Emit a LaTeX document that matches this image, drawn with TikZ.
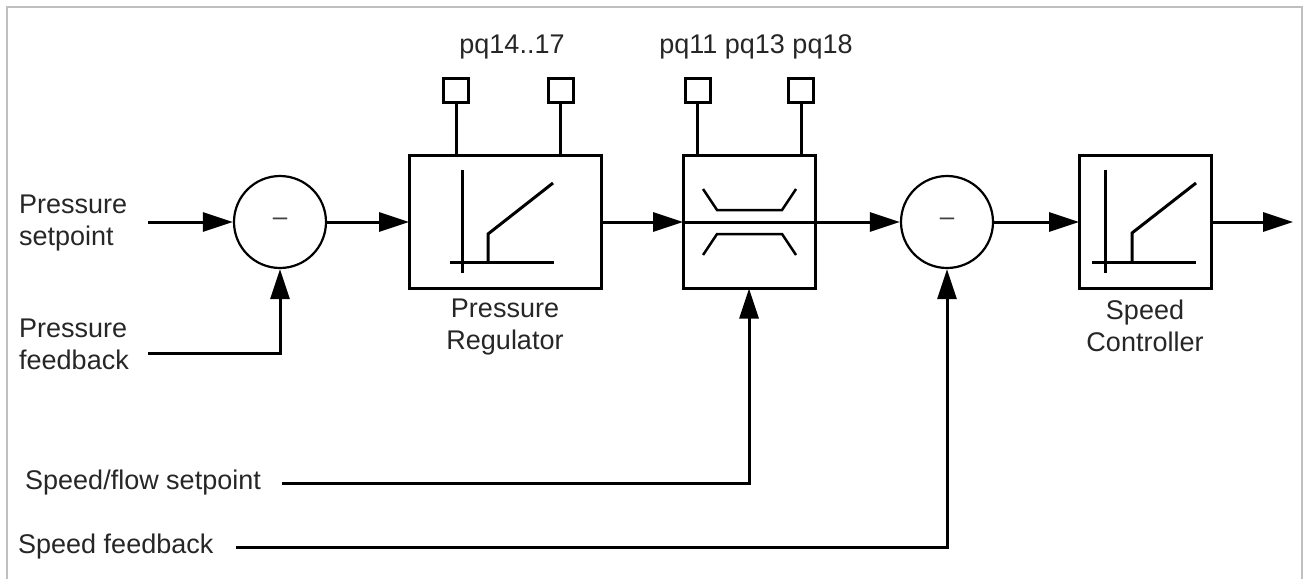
\documentclass[tikz,border=0pt]{standalone}
\usepackage{fontspec}
\setmainfont{Liberation Sans}
\usetikzlibrary{arrows.meta}
\begin{document}
\begin{tikzpicture}[x=1pt,y=-1pt,
  wire/.style={line width=3pt},
  arr/.style={line width=3pt,-{Triangle[length=30pt,width=19pt]}},
  blk/.style={draw,line width=3pt,minimum height=133pt,inner sep=0pt,outer sep=0pt},
  sum/.style={draw,circle,line width=2.2pt,minimum size=92pt,inner sep=0pt,font=\fontsize{26}{30}\selectfont,text=black!75},
  port/.style={draw,line width=3pt,minimum width=25pt,minimum height=24pt,inner sep=0pt,outer sep=0pt},
  lbl/.style={inner sep=0pt,font=\fontsize{27}{32}\selectfont,text=black!85},
  glyph/.style={line width=3pt},
  border/.style={draw=black!25,line width=2.5pt}]
\useasboundingbox (0,0) rectangle (1308,579);
\draw[border] (7,579) -- (7,7) -- (1302,7) -- (1302,579);

% blocks
\node[blk,minimum width=192pt] (pr) at (505,222) {};
\node[blk,minimum width=132pt] (lim) at (749,222) {};
\node[blk,minimum width=132pt] (sc) at (1145,222) {};
\node[sum] (s1) at (280,222) {\textendash};
\node[sum] (s2) at (947,222) {\textendash};

% parameter ports
\node[port] (p1) at (456,90.5) {};
\node[port] (p2) at (560.5,90.5) {};
\node[port] (p3) at (697.5,90.5) {};
\node[port] (p4) at (801,90.5) {};
\draw[wire] (p1) -- (p1 |- pr.north);
\draw[wire] (p2) -- (p2 |- pr.north);
\draw[wire] (p3) -- (p3 |- lim.north);
\draw[wire] (p4) -- (p4 |- lim.north);
\node[lbl] (lp1) at (512,47) {pq14..17};
\node[lbl] (lp2) at (756,47) {pq11 pq13 pq18};

% regulator glyphs
\begin{scope}[shift={(pr.center)}]
  \draw[glyph] (-43,-52) -- (-43,51);
  \draw[glyph] (-55,40) -- (49,40);
  \draw[glyph] (-17,40) -- (-17,12) -- (48,-39);
\end{scope}
\begin{scope}[shift={(sc.center)}]
  \draw[glyph] (-40,-52) -- (-40,51);
  \draw[glyph] (-53,40) -- (51,40);
  \draw[glyph] (-13,40) -- (-13,11) -- (51,-39);
\end{scope}
% limiter glyph
\begin{scope}[shift={(lim.center)}]
  \draw[line width=2.5pt] (-46,-33) -- (-32,-12) -- (33,-12) -- (47,-33);
  \draw[line width=2.5pt] (-46,33) -- (-32,12) -- (33,12) -- (47,33);
\end{scope}
\draw[wire] (lim.west) -- (lim.east);

% labels
\node[lbl,anchor=west,align=left] (lps) at (19,223) {Pressure\\setpoint};
\node[lbl,anchor=west,align=left] (lpf) at (19,344) {Pressure\\feedback};
\node[lbl,align=center] (lpr) at (505,327) {Pressure\\Regulator};
\node[lbl,align=center] (lsc) at (1145,326) {Speed\\Controller};
\node[lbl,anchor=west] (lsf) at (25,483) {Speed/flow setpoint};
\node[lbl,anchor=west] (lsb) at (18,547) {Speed feedback};

% connectors
\coordinate (cps) at (148,222);
\coordinate (cpf) at (148,353);
\coordinate (csf) at (282,483);
\coordinate (csb) at (236,547);
\coordinate (cout) at (1293,222);
\draw[arr] (cps) -- (s1);
\draw[arr] (s1) -- (pr);
\draw[arr] (pr) -- (lim);
\draw[arr] (lim) -- (s2);
\draw[arr] (s2) -- (sc);
\draw[arr] (sc) -- (cout);
\draw[arr] (cpf) -| (s1);
\draw[arr] (csf) -| (lim.south);
\draw[arr] (csb) -| (s2);
\end{tikzpicture}
\end{document}
